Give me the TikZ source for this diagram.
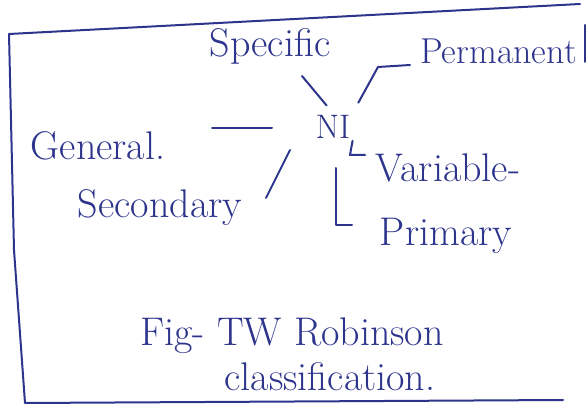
\documentclass[tikz,border=0pt]{standalone}
\usepackage{tikz}
\usepackage{color}

\definecolor{ink}{RGB}{45,52,140}

\tikzset{
  lbl/.style={text=ink,font=\fontsize{40}{44}\selectfont,inner sep=2pt},
  hub/.style={text=ink,font=\fontsize{34}{38}\selectfont,inner sep=2pt},
  link/.style={draw=ink,line width=2pt,line cap=round,line join=round}
}

\begin{document}
\begin{tikzpicture}[x=1pt,y=-1pt]
\useasboundingbox (0,0) rectangle (588,411);
% frame
\draw[link] (580,4) -- (9,34) -- (14,250) -- (25,403) -- (563,400);
\draw[link] (585,25) -- (585,62);

% hub and classes
\node[hub] (ni) at (333,127) {NI};
\node[lbl] (spec) at (270,46) {Specific};
\node[lbl,anchor=west,font=\fontsize{36}{40}\selectfont] (perm) at (418,51) {Permanent};
\node[lbl] (gen) at (98,146) {General.};
\node[lbl] (var) at (448,168) {Variable-};
\node[lbl] (sec) at (160,208) {Secondary};
\node[lbl] (prim) at (446,236) {Primary};

% strokes
\coordinate (sp) at (302,76);
\coordinate (pm) at (378,67);
\coordinate (vr) at (350,155);
\coordinate (pr1) at (336,168);
\coordinate (pr2) at (336,225);
\coordinate (gn) at (212,128);
\coordinate (sc) at (266,198);

\draw[link,shorten >=10pt] (sp) -- (ni.north);
\draw[link,shorten <=12pt] (ni.north east) -- (pm) -- +(32,-2);
\draw[link] (gn) -- +(60,0);
\draw[link] (sc) -- +(24,-48);
\draw[link] (ni.south east) -- (vr) -- +(15,0);
\draw[link] (pr1) -- (pr2) -- +(16,0);

% caption
\node[lbl] (cap1) at (292,336) {Fig- TW Robinson};
\node[lbl] (cap2) at (330,377) {classification.};
\end{tikzpicture}
\end{document}
